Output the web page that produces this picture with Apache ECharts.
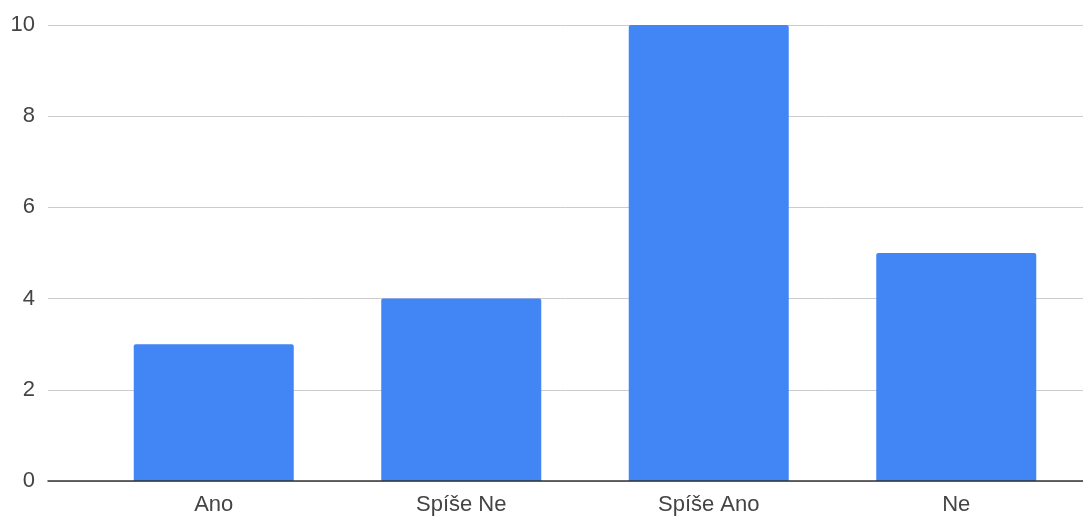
<!DOCTYPE html>
<html><head><meta charset="utf-8">
<script src="https://cdn.jsdelivr.net/npm/echarts@6/dist/echarts.min.js"></script>
<style>html,body{margin:0;padding:0;background:#fff}#c{width:1083px;height:516px}</style>
</head><body><div id="c"></div>
<script>
const categories = ['Ano', 'Spíše Ne', 'Spíše Ano', 'Ne'];
const values = [3, 4, 10, 5];
const yTicks = { min: 0, max: 10, interval: 2 };

const chart = echarts.init(document.getElementById('c'));
const font = '"Liberation Sans", Arial, sans-serif';
chart.setOption({
  animation: false,
  grid: [
    { left: 48, right: 0, top: 25, bottom: 35 },
    { left: 90, right: 3, top: 25, bottom: 35 }
  ],
  xAxis: [
    { gridIndex: 0, type: 'category', data: categories, axisLabel: { show: false }, axisTick: { show: false },
      axisLine: { lineStyle: { color: '#333', width: 1.5 } }, z: 10 },
    { gridIndex: 1, type: 'category', data: categories, axisTick: { show: false },
      axisLine: { show: false },
      axisLabel: { color: '#444', fontSize: 22, fontFamily: font, margin: 13 } }
  ],
  yAxis: [
    { gridIndex: 0, type: 'value', min: yTicks.min, max: yTicks.max, interval: yTicks.interval,
      axisLabel: { color: '#444', fontSize: 22, fontFamily: font, margin: 13, padding: [3, 0, 0, 0] },
      splitLine: { lineStyle: { color: '#ccc', width: 1 } }, axisLine: { show: false }, axisTick: { show: false } },
    { gridIndex: 1, type: 'value', min: yTicks.min, max: yTicks.max, interval: yTicks.interval,
      show: false, splitLine: { show: false } }
  ],
  series: [{
    type: 'bar', xAxisIndex: 1, yAxisIndex: 1, data: values, barWidth: 160,
    itemStyle: { color: '#4285F4', borderRadius: [2, 2, 0, 0] }
  }]
});
</script></body></html>
